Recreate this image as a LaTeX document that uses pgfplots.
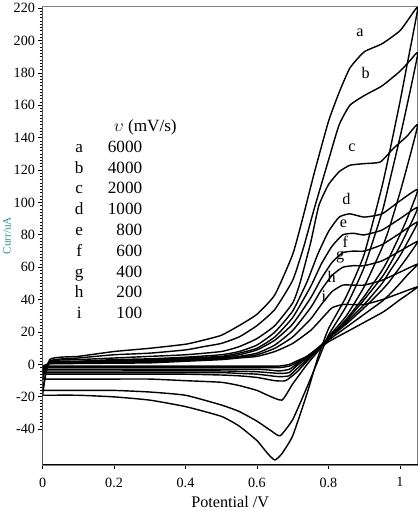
\documentclass[border=0pt]{standalone}
\usepackage{pgfplots}
\pgfplotsset{compat=1.18}
\usepackage{fontspec}
\setmainfont{Liberation Serif}
\definecolor{labteal}{RGB}{40,140,140}
\begin{document}
\begin{tikzpicture}
\begin{axis}[
 scale only axis, width=370bp, height=452bp,
 xmin=0, xmax=1.05, ymin=-62, ymax=221,
 xtick={0,0.2,0.4,0.6,0.8,1}, xticklabels={0,0.2,0.4,0.6,0.8,1},
 ytick={-40,-20,...,220},
 minor y tick num=9,
 tick align=outside, tick pos=left,
 major tick length=4bp, minor tick length=3bp,
 every tick/.style={black, line width=0.8pt},
 axis line style={gray, line width=0.6pt},
 /pgf/number format/assume math mode=true,
 ticklabel style={font=\fontsize{14}{14}\selectfont},
 xticklabel style={yshift=-5bp},
 xlabel={Potential /V}, xlabel style={font=\fontsize{16}{16}\selectfont, yshift=-2bp},
 ylabel={Curr/uA}, ylabel style={font=\fontsize{11}{11}\selectfont, color=labteal, yshift=-4bp},
 clip=true,
 cv/.style={black, line width=1.4pt, line join=round, mark=none, smooth, tension=0.3},
]
% a 6000
\addplot[cv] coordinates {(0,-19) (0.02,3) (0.1,5) (0.2,8) (0.3,10) (0.4,12.5) (0.45,15) (0.5,18) (0.55,24) (0.6,31) (0.65,43) (0.7,68) (0.73,92) (0.76,118) (0.8,150) (0.83,168) (0.86,183) (0.9,193) (0.95,198) (1.0,206) (1.03,215) (1.05,220)
 (1.02,185) (1.0,162) (0.97,130) (0.95,110) (0.9,68) (0.85,42) (0.8,22) (0.77,4) (0.74,-18) (0.7,-44) (0.67,-55) (0.65,-59) (0.63,-55) (0.6,-47) (0.55,-38) (0.5,-32) (0.4,-26) (0.3,-22) (0.2,-20) (0.1,-19) (0,-19)};
% b 4000
\addplot[cv] coordinates {(0,-16) (0.02,2) (0.1,4) (0.2,6) (0.3,7) (0.4,9) (0.45,11) (0.5,13) (0.55,17) (0.6,24) (0.65,34) (0.7,52) (0.73,72) (0.76,96) (0.8,126) (0.83,148) (0.86,160) (0.9,166) (0.95,172) (1.0,181) (1.03,188) (1.05,192)
 (1.02,160) (1.0,140) (0.97,112) (0.95,94) (0.9,60) (0.85,36) (0.8,18) (0.77,2) (0.74,-14) (0.7,-34) (0.665,-44) (0.64,-41) (0.6,-35) (0.55,-29) (0.5,-25) (0.4,-19) (0.3,-17) (0.2,-16) (0.1,-16) (0,-16)};
% c 2000
\addplot[cv] coordinates {(0,-9) (0.02,2) (0.1,3) (0.2,4) (0.3,5) (0.4,6) (0.5,8) (0.55,11) (0.6,16) (0.65,24) (0.7,38) (0.72,50) (0.75,75) (0.773,98) (0.8,111) (0.83,119) (0.86,123) (0.9,124) (0.945,125) (0.98,133) (1.02,141) (1.05,148)
 (1.02,122) (1.0,106) (0.97,84) (0.95,72) (0.9,48) (0.85,30) (0.8,17) (0.77,8) (0.74,0) (0.7,-12) (0.67,-22) (0.63,-19) (0.6,-16) (0.55,-13) (0.5,-11) (0.4,-10) (0.3,-9) (0.2,-9) (0.1,-9) (0,-9)};
% d 1000
\addplot[cv] coordinates {(0,-6) (0.02,1.5) (0.1,2) (0.2,3) (0.3,3.5) (0.4,4.5) (0.5,6) (0.55,8) (0.6,12) (0.65,20) (0.7,33) (0.74,51) (0.77,68) (0.8,82) (0.83,91) (0.86,93) (0.9,91) (0.95,93) (1.0,101) (1.05,108)
 (1.02,90) (1.0,80) (0.97,66) (0.95,58) (0.9,42) (0.85,28) (0.8,16) (0.77,9) (0.74,2) (0.71,-5) (0.68,-10) (0.65,-10) (0.6,-8) (0.55,-7) (0.5,-6.5) (0.4,-6) (0.3,-6) (0.2,-6) (0.1,-6) (0,-6)};
% e 800
\addplot[cv] coordinates {(0,-5) (0.02,1.2) (0.1,1.8) (0.2,2.5) (0.3,3) (0.4,4) (0.5,5) (0.55,7) (0.6,10) (0.65,17) (0.7,29) (0.75,48) (0.78,62) (0.81,73) (0.84,80) (0.87,81) (0.9,80) (0.95,83) (1.0,90) (1.05,97)
 (1.02,82) (1.0,73) (0.97,61) (0.95,54) (0.9,40) (0.85,27) (0.8,16) (0.77,9) (0.74,3) (0.71,-3) (0.69,-7) (0.66,-7.5) (0.6,-6) (0.55,-5.5) (0.5,-5) (0.4,-5) (0.2,-5) (0,-5)};
% f 600
\addplot[cv] coordinates {(0,-4) (0.02,1) (0.1,1.5) (0.2,2) (0.3,2.5) (0.4,3.5) (0.5,4.5) (0.55,6) (0.6,9) (0.65,15) (0.7,25) (0.75,41) (0.78,53) (0.81,63) (0.84,69) (0.87,70) (0.9,70) (0.95,74) (1.0,81) (1.05,88)
 (1.02,75) (1.0,67) (0.97,57) (0.95,50) (0.9,37) (0.85,26) (0.8,16) (0.77,10) (0.74,4) (0.71,-1) (0.69,-5) (0.66,-5.5) (0.6,-4.5) (0.5,-4) (0.2,-4) (0,-4)};
% g 400
\addplot[cv] coordinates {(0,-3) (0.02,0.8) (0.1,1.2) (0.2,1.6) (0.3,2) (0.4,3) (0.5,4) (0.55,5) (0.6,7) (0.65,12) (0.7,21) (0.75,35) (0.78,46) (0.81,55) (0.84,60) (0.87,61) (0.9,61) (0.95,64) (1.0,70) (1.05,76)
 (1.02,66) (1.0,60) (0.97,51) (0.95,46) (0.9,35) (0.85,25) (0.8,16) (0.77,10) (0.74,5) (0.71,0) (0.69,-3) (0.66,-4) (0.6,-3) (0.3,-3) (0,-3)};
% h 200
\addplot[cv] coordinates {(0,-2) (0.02,0.6) (0.1,0.9) (0.2,1.2) (0.3,1.5) (0.4,2.5) (0.5,3.5) (0.55,4.5) (0.6,6) (0.65,10) (0.7,17) (0.75,28) (0.78,37) (0.81,45) (0.84,49) (0.87,49) (0.9,49) (0.95,52) (1.0,57) (1.05,62)
 (1.02,55) (1.0,50) (0.97,43) (0.95,39) (0.9,31) (0.85,23) (0.8,15) (0.77,10) (0.74,5) (0.71,1) (0.69,-1) (0.66,-2) (0.6,-2) (0.3,-2) (0,-2)};
% i 100
\addplot[cv] coordinates {(0,-1) (0.02,0.4) (0.1,0.6) (0.2,0.8) (0.3,1) (0.4,2) (0.5,3) (0.55,4) (0.6,5) (0.65,8) (0.7,13) (0.75,21) (0.78,28) (0.81,35) (0.84,37) (0.87,37) (0.9,37) (0.95,40) (1.0,44) (1.05,48)
 (1.02,43) (1.0,40) (0.97,35) (0.95,32) (0.9,26) (0.85,20) (0.8,14) (0.77,9) (0.74,5) (0.71,2) (0.69,0) (0.66,-1) (0.6,-1) (0.3,-1) (0,-1)};
% curve labels
\begin{scope}[every node/.style={font=\fontsize{16}{16}\selectfont, inner sep=1pt}]
\node at (axis cs:0.888,205) {a};
\node at (axis cs:0.904,180) {b};
\node at (axis cs:0.866,134) {c};
\node at (axis cs:0.85,102) {d};
\node at (axis cs:0.842,87) {e};
\node at (axis cs:0.847,76) {f};
\node at (axis cs:0.833,66) {g};
\node at (axis cs:0.809,54) {h};
\node at (axis cs:0.787,42) {i};
\end{scope}
% scan-rate table
\node[anchor=north west, inner sep=0pt, font=\fontsize{17}{20.6}\selectfont] at (axis cs:0.09,153) {%
\begin{tabular}{@{}c@{\hspace{24bp}}r@{}}
 & \multicolumn{1}{l}{\makebox[0pt][l]{$\upsilon$ (mV/s)}}\\
a & 6000\\
b & 4000\\
c & 2000\\
d & 1000\\
e & 800\\
f & 600\\
g & 400\\
h & 200\\
i & 100
\end{tabular}};
\draw[black, line width=2pt] (rel axis cs:0,0) -- (rel axis cs:1,0);
\draw[black, line width=1pt] (rel axis cs:0,0) -- (rel axis cs:0,1);
\end{axis}
\end{tikzpicture}
\end{document}
